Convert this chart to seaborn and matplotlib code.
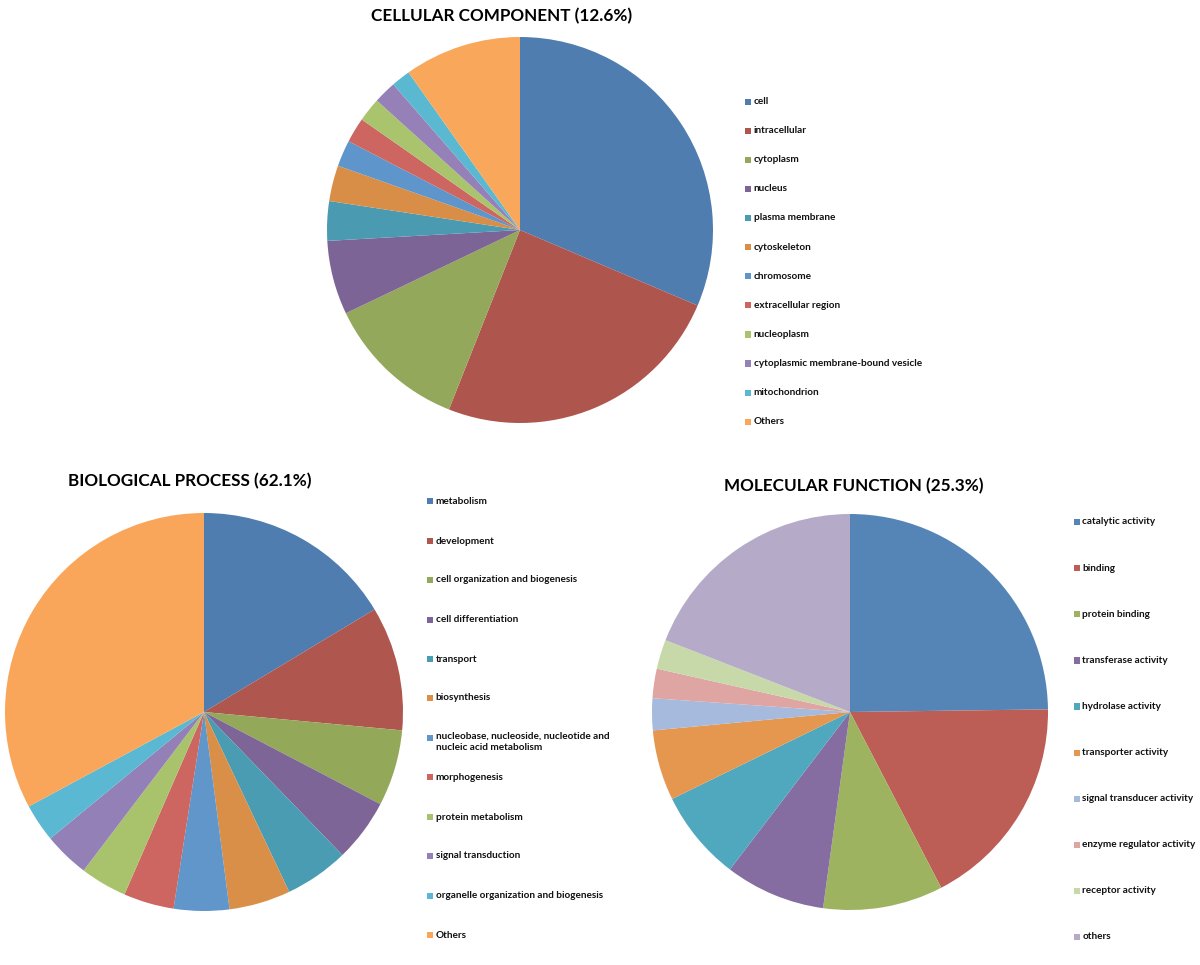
import matplotlib
matplotlib.use("Agg")
import matplotlib.pyplot as plt
from matplotlib.patches import Rectangle
import seaborn as sns

sns.set_theme(style="white")
plt.rcParams['font.family'] = ['Lato', 'DejaVu Sans']

# ---------------- data ----------------
cc_title = "CELLULAR COMPONENT (12.6%)"
cc_labels = ["cell", "intracellular", "cytoplasm", "nucleus", "plasma membrane",
             "cytoskeleton", "chromosome", "extracellular region", "nucleoplasm",
             "cytoplasmic membrane-bound vesicle", "mitochondrion", "Others"]
cc_values = [31.4, 24.6, 11.9, 6.2, 3.3, 3.0, 2.2, 2.1, 2.0, 1.9, 1.6, 9.8]
cc_colors = ["#4F7DB0", "#AE564E", "#93A85A", "#7D6496", "#4A9BB1", "#D98E48",
             "#5E95CB", "#CD6560", "#A9C46D", "#9580B8", "#5AB8D1", "#F9A75A"]

bp_title = "BIOLOGICAL PROCESS (62.1%)"
bp_labels = ["metabolism", "development", "cell organization and biogenesis",
             "cell differentiation", "transport", "biosynthesis",
             "nucleobase, nucleoside, nucleotide and\nnucleic acid metabolism",
             "morphogenesis", "protein metabolism", "signal transduction",
             "organelle organization and biogenesis", "Others"]
bp_values = [16.4, 10.1, 6.2, 5.1, 5.2, 5.0, 4.5, 4.1, 3.8, 3.7, 3.1, 32.9]
bp_colors = ["#4F7DAF", "#AF564E", "#94A85A", "#7E6598", "#4A9CB2", "#D98F48",
             "#6096C9", "#CD6560", "#A9C36D", "#9380B7", "#5BB8D2", "#F9A65A"]

mf_title = "MOLECULAR FUNCTION (25.3%)"
mf_labels = ["catalytic activity", "binding", "protein binding", "transferase activity",
             "hydrolase activity", "transporter activity", "signal transducer activity",
             "enzyme regulator activity", "receptor activity", "others"]
mf_values = [24.8, 17.6, 9.8, 8.2, 7.4, 5.75, 2.6, 2.4, 2.4, 19.1]
mf_colors = ["#5585B7", "#BC5E56", "#9DB35F", "#856DA2", "#50A8BF", "#E6974F",
             "#A5BADC", "#DEA5A3", "#C8D9A9", "#B5ABC9"]

# ---------------- layout ----------------
W, H = 1200, 965
fig = plt.figure(figsize=(W / 100, H / 100), dpi=100)
fig.patch.set_facecolor("white")


def px_axes(cx, cy, r):
    ax = fig.add_axes([(cx - r) / W, (H - cy - r) / H, 2 * r / W, 2 * r / H])
    ax.set_xlim(-1, 1)
    ax.set_ylim(-1, 1)
    ax.set_aspect("equal")
    ax.axis("off")
    return ax


def draw_pie(cx, cy, r, values, colors):
    ax = px_axes(cx, cy, r)
    ax.pie(values, colors=colors, startangle=90, counterclock=False, radius=1.0,
           wedgeprops=dict(linewidth=0), normalize=True)
    ax.set_xlim(-1, 1)
    ax.set_ylim(-1, 1)
    return ax


def draw_legend(x, y0, step, labels, colors, size=7.2, ystarts=None):
    for i, (lab, col) in enumerate(zip(labels, colors)):
        y = ystarts[i] if ystarts is not None else y0 + i * step
        fig.patches.append(Rectangle((x / W, (H - y - 3.2) / H), 6.2 / W, 6.2 / H,
                                     transform=fig.transFigure, facecolor=col,
                                     edgecolor="none", figure=fig))
        multi = "\n" in lab
        fig.text((x + 8.5) / W, (H - y + (6 if multi else 0)) / H, lab, ha="left",
                 va="top" if multi else "center",
                 fontsize=size, fontweight="bold", color="#111111", linespacing=1.3)


def title(x, y, s):
    fig.text(x / W, (H - y) / H, s, ha="center", va="center", fontsize=12.3,
             fontweight="bold", color="black")


# Cellular component
draw_pie(520, 230, 193, cc_values, cc_colors)
title(502, 16, cc_title)
draw_legend(745, 101.5, 29.1, cc_labels, cc_colors)

# Biological process
draw_pie(204, 712, 199, bp_values, bp_colors)
title(190, 481, bp_title)
bp_y = [501, 541, 580, 620, 659, 698, 738, 777, 817, 856, 896, 935]
draw_legend(427, 0, 0, bp_labels, bp_colors, ystarts=bp_y)

# Molecular function
draw_pie(850, 712, 198, mf_values, mf_colors)
title(854, 486, mf_title)
draw_legend(1074, 522, 46.1, mf_labels, mf_colors)

fig.savefig("out.png", dpi=100, facecolor="white")
